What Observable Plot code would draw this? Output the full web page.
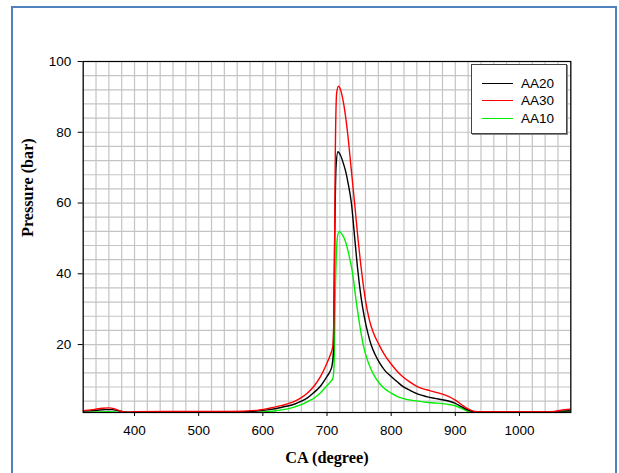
<!DOCTYPE html>
<html>
<head>
<meta charset="utf-8">
<script src="https://cdn.jsdelivr.net/npm/d3@7"></script>
<script src="https://cdn.jsdelivr.net/npm/@observablehq/plot@0.6"></script>
<style>
  html, body { margin: 0; padding: 0; background: #fff; overflow: hidden; width: 619px; height: 473px; }
  #wrap { position: relative; width: 619px; height: 473px; overflow: hidden; }
  #frame { position: absolute; left: 11px; top: 6px; width: 602px; height: 480px; border: 2px solid #4f81bd; pointer-events: none; }
  #chart { position: absolute; left: 0; top: 0; }
  #legend { position: absolute; left: 471px; top: 64px; width: 94px; height: 68px; border: 1px solid #444; background: #fff; box-shadow: 1px 1px 0 #888; font-family: "Liberation Sans", Arial, sans-serif; font-size: 13.5px; }
  .row { position: absolute; left: 0; height: 16px; display: flex; align-items: center; }
  .row span.sw { display: inline-block; width: 31px; height: 0; border-top: 1.3px solid; margin-left: 10px; margin-right: 8px; }
</style>
</head>
<body>
<div id="wrap">
  <div id="chart"></div>
  <div id="legend"></div>
  <div id="frame"></div>
</div>
<script>
// Tick values
const xTicks = [400, 500, 600, 700, 800, 900, 1000];
const yTicks = [20, 40, 60, 80, 100];

// Series names and colours (legend order)
const seriesNames = ["AA20", "AA30", "AA10"];
const seriesColors = ["#000000", "#ff0000", "#00ee00"];

// AA20 (black)
const caAA20 = [320, 340, 355, 365, 375, 385, 395, 420, 500, 560, 590, 610, 630, 650, 660, 670, 680, 690, 700, 705, 708, 710, 712, 714, 717, 721, 725, 729, 733, 738, 743, 748, 753, 758, 764, 769, 775, 782, 790, 800, 810, 818, 830, 843, 855, 868, 880, 892, 900, 911, 920, 929, 940, 1000, 1050, 1065, 1080];
const pAA20 = [1.2, 1.4, 1.6, 1.6, 1.3, 0.95, 0.9, 1.0, 1.0, 1.0, 1.2, 1.6, 2.3, 3.2, 4.0, 5.0, 6.5, 8.3, 11.0, 12.5, 14.2, 18, 50, 70, 74.5, 73.5, 71.5, 69, 65.5, 60, 50.5, 41, 33.5, 28, 23, 19.8, 17.2, 14.8, 12.7, 11, 9.4, 8.2, 7.0, 5.9, 5.3, 4.8, 4.4, 3.9, 3.4, 2.3, 1.5, 1.0, 0.95, 0.95, 1.0, 1.2, 1.3];

// AA30 (red)
const caAA30 = [320, 335, 350, 360, 368, 378, 390, 400, 450, 550, 590, 610, 630, 650, 660, 670, 680, 690, 700, 705, 709, 711, 713, 715, 718, 722, 726, 732, 737, 743, 748, 754, 760, 766, 772, 781, 790, 800, 810, 820, 830, 840, 850, 860, 870, 880, 890, 900, 910, 920, 930, 940, 1000, 1040, 1055, 1070, 1080];
const pAA30 = [1.3, 1.6, 2.0, 2.1, 1.9, 1.2, 0.9, 1.0, 1.1, 1.1, 1.4, 2.0, 2.8, 4.0, 5.0, 6.4, 8.3, 11, 14.8, 17, 19.5, 30, 75, 91, 93, 91.5, 88, 80, 71, 60, 50.5, 40.5, 32.5, 27, 23.5, 20, 17, 14.5, 12.3, 10.6, 9.3, 8.2, 7.5, 7.0, 6.5, 6.0, 5.3, 4.3, 3.0, 1.8, 1.1, 1.0, 1.0, 1.0, 1.1, 1.6, 1.7];

// AA10 (green)
const caAA10 = [320, 340, 360, 372, 380, 400, 500, 580, 600, 620, 640, 650, 660, 670, 680, 690, 700, 705, 709, 711, 713, 716, 719, 724, 729, 734, 740, 745, 751, 757, 763, 769, 775, 782, 790, 800, 810, 818, 830, 843, 855, 868, 880, 892, 900, 908, 916, 925, 940, 1000, 1050, 1060, 1080];
const pAA10 = [0.9, 0.95, 1.0, 0.9, 0.8, 0.75, 0.75, 0.8, 0.95, 1.3, 1.9, 2.4, 3.0, 3.9, 4.9, 6.4, 8.4, 9.4, 10.4, 14, 35, 50, 52, 51, 49, 45.5, 40, 33, 25.5, 19.5, 15.6, 12.9, 10.8, 9.0, 7.5, 6.3, 5.3, 4.8, 4.3, 4.0, 3.7, 3.5, 3.3, 3.0, 2.7, 2.1, 1.4, 0.9, 0.8, 0.8, 0.85, 0.95, 1.0];

const toRows = (xs, ys) => xs.map((x, i) => ({ca: x, p: ys[i]}));
const dAA20 = toRows(caAA20, pAA20);
const dAA30 = toRows(caAA30, pAA30);
const dAA10 = toRows(caAA10, pAA10);

const tickFont = '"Liberation Sans", Arial, sans-serif';
const labelFont = '"Liberation Serif", "Times New Roman", serif';

const chart = Plot.plot({
  width: 619,
  height: 473,
  marginLeft: 82.7,
  marginRight: 48.7,
  marginTop: 61,
  marginBottom: 61,
  style: {background: "transparent", fontFamily: tickFont, overflow: "visible"},
  x: {domain: [320, 1080]},
  y: {domain: [0.8, 100]},
  marks: [
    Plot.gridX({interval: 20, stroke: "#c4c4c4", strokeOpacity: 1, strokeWidth: 1.2}),
    Plot.gridY({interval: 4, stroke: "#c4c4c4", strokeOpacity: 1, strokeWidth: 1.2}),
    Plot.line(dAA10, {x: "ca", y: "p", stroke: seriesColors[2], strokeWidth: 1.4, curve: "monotone-x", clip: true}),
    Plot.line(dAA20, {x: "ca", y: "p", stroke: seriesColors[0], strokeWidth: 1.4, curve: "monotone-x", clip: true}),
    Plot.line(dAA30, {x: "ca", y: "p", stroke: seriesColors[1], strokeWidth: 1.4, curve: "monotone-x", clip: true}),
    Plot.frame({stroke: "#000", strokeWidth: 1.2}),
    Plot.axisX({ticks: xTicks, tickSize: 4, tickPadding: 9, fontSize: 13.5, label: null, tickFormat: d => String(d)}),
    Plot.axisY({ticks: yTicks, tickSize: 5, tickPadding: 7, fontSize: 13.5, label: null, tickFormat: d => String(d)}),
    Plot.text(["Pressure (bar)"], {frameAnchor: "left", dx: -55, rotate: -90, fontWeight: "bold", fontFamily: labelFont, fontSize: 16.2, fill: "#000"}),
    Plot.text(["CA (degree)"], {frameAnchor: "bottom", dy: 50, fontWeight: "bold", fontFamily: labelFont, fontSize: 16.3, fill: "#000"})
  ]
});
document.getElementById("chart").appendChild(chart);

// Legend
const legend = document.getElementById("legend");
const rowTops = [10, 27, 45];
seriesNames.forEach((name, i) => {
  const row = document.createElement("div");
  row.className = "row";
  row.style.top = rowTops[i] + "px";
  const sw = document.createElement("span");
  sw.className = "sw";
  sw.style.borderTopColor = seriesColors[i];
  const t = document.createElement("span");
  t.textContent = name;
  row.appendChild(sw);
  row.appendChild(t);
  legend.appendChild(row);
});
</script>
</body>
</html>
